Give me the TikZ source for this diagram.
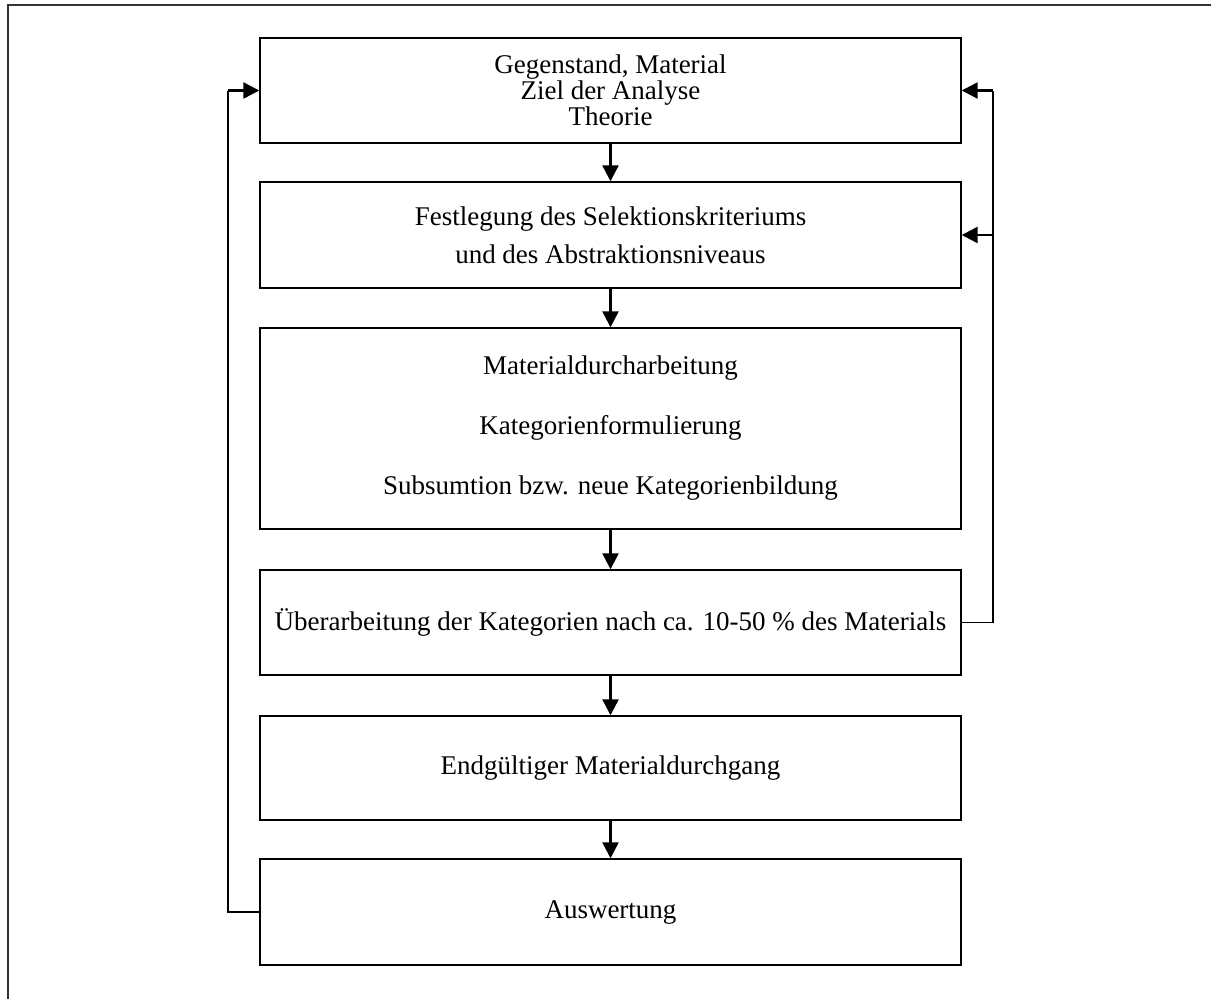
\documentclass[tikz,border=0pt]{standalone}
\usepackage{fontspec}
\setmainfont{Liberation Serif}
\usetikzlibrary{arrows.meta}
\begin{document}
\begin{tikzpicture}[x=1pt,y=-1pt,
  box/.style={draw, line width=1.4pt, minimum width=701pt, inner sep=0pt,
              align=center, font=\fontsize{27}{26}\selectfont},
  flow/.style={line width=2.4pt, -{Triangle[length=16pt,width=16pt]}},
  back/.style={line width=1.3pt}]
\useasboundingbox (0,0) rectangle (1211,999);
% outer frame
\draw[line width=2pt, draw=black!80] (8,1010) -- (8,5) -- (1220,5);

% process steps
\node[box, minimum height=105pt] (b1) at (610.5,90.5)
  {Gegenstand, Material\\Ziel der Analyse\\Theorie};
\node[box, minimum height=106pt, font=\fontsize{27}{38}\selectfont] (b2) at (610.5,235)
  {Festlegung des Selektionskriteriums\\und des Abstraktionsniveaus};
\node[box, minimum height=201pt, font=\fontsize{27}{60}\selectfont] (b3) at (610.5,428.5)
  {Materialdurcharbeitung\\Kategorienformulierung\\Subsumtion bzw. neue Kategorienbildung};
\node[box, minimum height=105pt] (b4) at (610.5,622.5)
  {Überarbeitung der Kategorien nach ca. 10-50 \% des Materials};
\node[box, minimum height=104pt] (b5) at (610.5,768)
  {Endgültiger Materialdurchgang};
\node[box, minimum height=106pt] (b6) at (610.5,912)
  {Auswertung};

% main flow
\draw[flow] (b1) -- (b2);
\draw[flow] (b2) -- (b3);
\draw[flow] (b3) -- (b4);
\draw[flow] (b4) -- (b5);
\draw[flow] (b5) -- (b6);

% feedback from the evaluation to the start
\coordinate (lb) at (228,912);
\coordinate (lt) at (228,90.5);
\draw[back] (b6.west) -- (lb) -- (lt);
\draw[flow] (lt) -- (b1.west);

% feedback from the revision step
\coordinate (rb) at (993,622.5);
\coordinate (rt) at (993,90.5);
\coordinate (rm) at (993,235);
\draw[back] (b4.east) -- (rb) -- (rt);
\draw[flow] (rt) -- (b1.east);
\draw[flow] (rm) -- (b2.east);
\end{tikzpicture}
\end{document}
